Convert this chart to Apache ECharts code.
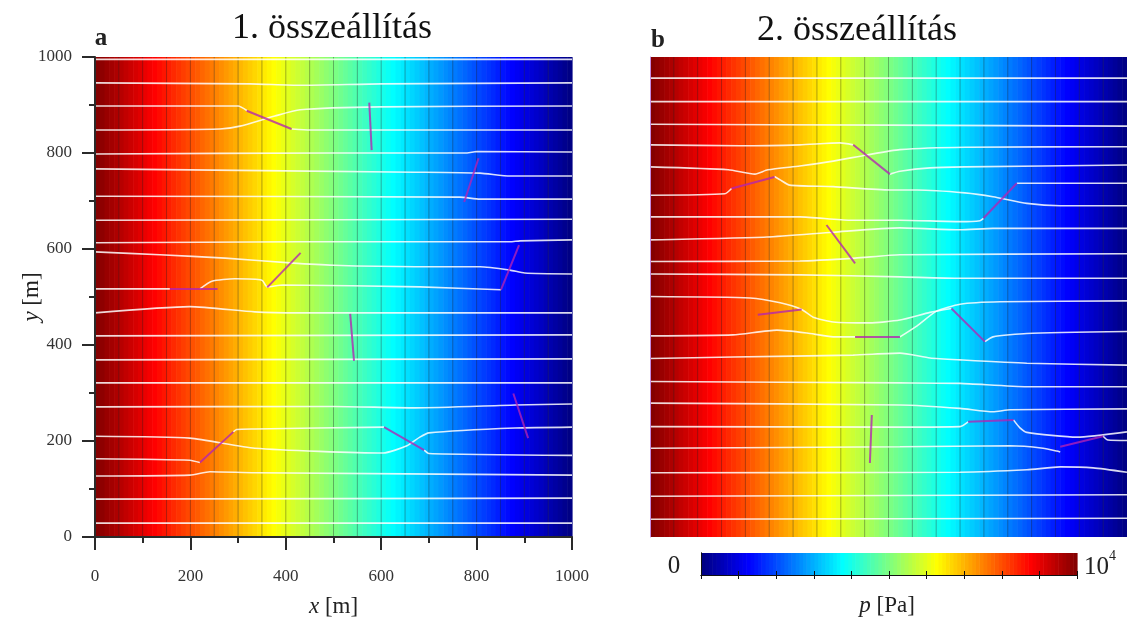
<!DOCTYPE html>
<html><head><meta charset="utf-8">
<script src="https://cdn.jsdelivr.net/npm/echarts@6/dist/echarts.min.js"></script>
<style>html,body{margin:0;padding:0;background:#fff}#c{width:1127px;height:624px}</style>
</head><body><div id="c"></div>
<script>
// ---- data (x, y in metres; p in Pa) ----
const panelTitles = ['1. összeállítás', '2. összeállítás'];
const panelLetters = ['a', 'b'];
const cellX = [5,15,25,35,45,55,65,75,85,95,105,115,125,135,145,155,165,175,185,195,205,215,225,235,245,255,265,275,285,295,305,315,325,335,345,355,365,375,385,395,405,415,425,435,445,455,465,475,485,495,505,515,525,535,545,555,565,575,585,595,605,615,625,635,645,655,665,675,685,695,705,715,725,735,745,755,765,775,785,795,805,815,825,835,845,855,865,875,885,895,905,915,925,935,945,955,965,975,985,995];
const cellP = [9950,9850,9750,9650,9550,9450,9350,9250,9150,9050,8950,8850,8750,8650,8550,8450,8350,8250,8150,8050,7950,7850,7750,7650,7550,7450,7350,7250,7150,7050,6950,6850,6750,6650,6550,6450,6350,6250,6150,6050,5950,5850,5750,5650,5550,5450,5350,5250,5150,5050,4950,4850,4750,4650,4550,4450,4350,4250,4150,4050,3950,3850,3750,3650,3550,3450,3350,3250,3150,3050,2950,2850,2750,2650,2550,2450,2350,2250,2150,2050,1950,1850,1750,1650,1550,1450,1350,1250,1150,1050,950,850,750,650,550,450,350,250,150,50];
const contourX = [50,100,150,200,250,300,350,400,450,500,550,600,650,700,750,800,850,900,950];
// streamlines; null = the line enters a fracture and leaves at its other end
const streamA = [
  [[0,995],[500,995],[1000,995]],
  [[0,946],[325,944],[430,941],[600,944],[1000,946]],
  [[0,898],[300,898],[319,888],null,[413,850],[451,848],[1000,848]],
  [[0,848],[262,850],[304,856],[377,877],[430,890],[597,896],[1000,898]],
  [[0,798],[500,800],[780,800],[800,803],[1000,802]],
  [[0,767],[671,760],[807,758],[870,752],[1000,752]],
  [[0,710],[765,708],[807,704],[1000,704]],
  [[0,660],[1000,662]],
  [[0,613],[430,615],[870,615],[891,617],[1000,619]],
  [[0,594],[136,588],[273,581],[409,571],[500,566],[671,563],[807,563],[870,556],[901,550],[1000,548]],
  [[0,517],[157,517],null,[220,517],[245,533],[293,538],[350,535],[361,521],[394,525],[681,521],[851,515]],
  [[0,467],[199,480],[335,469],[430,467],[1000,467]],
  [[0,419],[1000,421]],
  [[0,369],[1000,371]],
  [[0,321],[1000,321]],
  [[0,271],[500,272],[671,269],[881,275],[1000,277]],
  [[0,210],[199,206],[335,185],[604,175],[654,190],[681,208],[700,217],[881,227],[1000,229]],
  [[0,163],[199,160],[220,155],null,[290,219],[297,224],[335,225],[606,229],null,[690,181],[700,174],[1000,170]],
  [[0,127],[199,129],[241,136],[335,134],[1000,129]],
  [[0,79],[1000,81]],
  [[0,29],[1000,29]]
];
const fracA = [
  [[318,888],[412,850]], [[575,905],[580,806]], [[774,698],[804,789]], [[157,517],[257,517]],
  [[361,520],[431,592]], [[851,515],[889,608]], [[535,465],[543,367]], [[220,155],[290,219]],
  [[606,229],[690,181]], [[877,299],[908,206]]
];
const streamB = [
  [[0,956],[1000,956]],
  [[0,907],[1000,907]],
  [[0,860],[500,858],[1000,856]],
  [[0,817],[189,815],[314,817],[398,821],[426,817],null,[503,756],[524,762],[587,769],[660,771],[1000,775]],
  [[0,771],[164,765],[220,756],[247,765],[314,773],[384,783],[455,796],[524,807],[660,812],[1000,813]],
  [[0,712],[157,715],[171,726],null,[261,751],[273,744],[293,733],[384,730],[503,723],[560,723],[660,717],[719,709],[790,695],[860,690],[1000,690]],
  [[0,667],[314,667],[419,660],[524,660],[650,657],[692,659],[699,664],null,[769,737],[797,737],[1000,737]],
  [[0,619],[245,625],[384,635],[524,644],[650,640],[719,643],[1000,643]],
  [[0,574],[314,575],[430,581],[524,588],[1000,590]],
  [[0,548],[314,546],[524,542],[650,539],[1000,539]],
  [[0,501],[210,498],[273,488],[318,474],[342,458],[384,448],[460,446],[524,452],[587,468],[632,476],null,[702,407],[719,417],[790,424],[1000,428]],
  [[0,419],[174,421],[266,431],[329,425],[384,417],[430,417],null,[524,417],[560,440],[600,470],[650,485],[734,490],[1000,492]],
  [[0,372],[174,375],[426,379],[524,383],[587,373],[650,369],[790,362],[1000,358]],
  [[0,324],[524,321],[650,320],[790,313],[1000,313]],
  [[0,279],[524,275],[650,268],[719,261],[755,265],[1000,267]],
  [[0,230],[524,229],[650,230],[667,240],null,[762,244],[775,228],[790,218],[895,208],[1000,219]],
  [[0,185],[524,188],[755,190],[824,185],[853,179],[860,177],null,[950,210],[960,202],[1000,201]],
  [[0,134],[650,135],[790,140],[860,146],[929,144],[1000,135]],
  [[0,85],[1000,88]],
  [[0,37],[1000,39]]
];
const fracB = [
  [[171,726],[261,750]], [[226,463],[318,474]], [[426,817],[503,756]], [[370,650],[430,570]],
  [[430,417],[524,417]], [[465,254],[461,154]], [[632,476],[702,407]], [[699,664],[769,737]],
  [[667,240],[762,244]], [[860,188],[950,210]]
];
const jet = ['#00007f','#0000ff','#007fff','#00ffff','#7fff7f','#ffff00','#ff7f00','#ff0000','#7f0000'];

// ---- chart ----
const SERIF = '"Liberation Serif","DejaVu Serif",serif';
const chart = echarts.init(document.getElementById('c'), null, {renderer: 'canvas'});

function fieldItem(params, api) {
  const half = (cellX[1] - cellX[0]) / 2;
  const x = api.value(0);
  const a = api.coord([x - half, 1000]);
  const b = api.coord([x + half, 0]);
  return {type: 'rect', shape: {x: a[0], y: a[1], width: b[0] - a[0] + 0.6, height: b[1] - a[1]},
          style: {fill: api.visual('color')}};
}
function barItem(params, api) {
  const half = (cellP[0] - cellP[1]) / 2;
  const x = api.value(0);
  const a = api.coord([x - half, 1]);
  const b = api.coord([x + half, 0]);
  return {type: 'rect', shape: {x: a[0], y: a[1], width: b[0] - a[0] + 0.6, height: b[1] - a[1]},
          style: {fill: api.visual('color')}};
}
function contourItem(params, api) {
  const a = api.coord([api.value(0), 0]);
  const b = api.coord([api.value(0), 1000]);
  return {type: 'line', shape: {x1: a[0], y1: a[1], x2: b[0], y2: b[1]},
          style: {stroke: 'rgba(30,30,30,0.45)', lineWidth: 0.8}};
}

const series = [
  {type: 'custom', xAxisIndex: 0, yAxisIndex: 0, renderItem: fieldItem, data: cellX.map((x, i) => [x, cellP[i]]), silent: true, z: 1},
  {type: 'custom', xAxisIndex: 1, yAxisIndex: 1, renderItem: fieldItem, data: cellX.map((x, i) => [x, cellP[i]]), silent: true, z: 1},
  {type: 'custom', xAxisIndex: 2, yAxisIndex: 2, renderItem: barItem, data: cellP.map(p => [p, p]), silent: true, z: 1},
  {type: 'custom', xAxisIndex: 0, yAxisIndex: 0, renderItem: contourItem, data: contourX.map(x => [x, 0]), silent: true, z: 2},
  {type: 'custom', xAxisIndex: 1, yAxisIndex: 1, renderItem: contourItem, data: contourX.map(x => [x, 0]), silent: true, z: 2}
];
[[streamA, 0], [streamB, 1]].forEach(([set, idx]) => {
  set.forEach(pts => series.push({
    type: 'line', xAxisIndex: idx, yAxisIndex: idx, data: pts.map(p => p === null ? [null, null] : p),
    connectNulls: false, smooth: 0.2, symbol: 'none', silent: true, z: 3,
    lineStyle: {color: 'rgba(255,255,255,0.85)', width: 1.6}
  }));
});
[[fracA, 0], [fracB, 1]].forEach(([set, idx]) => {
  series.push({
    type: 'lines', coordinateSystem: 'cartesian2d', xAxisIndex: idx, yAxisIndex: idx, silent: true, z: 4,
    data: set.map(c => ({coords: c})),
    lineStyle: {color: 'rgba(180,35,180,0.78)', width: 2, opacity: 1}
  });
});

const tickStyle = {color: '#2a2a2a', width: 2};
const plain = v => String(v);
chart.setOption({
  animation: false,
  backgroundColor: '#fff',
  grid: [
    {left: 95, top: 57, width: 477, height: 480},
    {left: 650, top: 57, width: 477, height: 480},
    {left: 701, top: 553, width: 376, height: 22}
  ],
  visualMap: {type: 'continuous', show: false, min: 0, max: 10000, dimension: 1, seriesIndex: [0, 1, 2], inRange: {color: jet}},
  xAxis: [
    {gridIndex: 0, type: 'value', min: 0, max: 1000, interval: 200, z: 10,
     axisLine: {show: true, lineStyle: tickStyle}, axisTick: {show: true, length: 13, lineStyle: tickStyle},
     minorTick: {show: true, splitNumber: 2, length: 6, lineStyle: tickStyle}, splitLine: {show: false},
     axisLabel: {fontFamily: SERIF, fontSize: 17, color: '#333', margin: 31, formatter: plain},
     name: '{i|x} [m]', nameLocation: 'middle', nameGap: 58, nameMoveOverlap: false,
     nameTextStyle: {fontFamily: SERIF, fontSize: 23, color: '#222', rich: {i: {fontFamily: SERIF, fontSize: 23, fontStyle: 'italic', color: '#222'}}}},
    {gridIndex: 1, type: 'value', min: 0, max: 1000, show: false},
    {gridIndex: 2, type: 'value', min: 0, max: 10000, interval: 1000, z: 10,
     axisLine: {show: true, lineStyle: {color: '#111', width: 1}}, axisTick: {show: true, inside: true, length: 4, lineStyle: {color: '#111'}},
     axisLabel: {show: false}, splitLine: {show: false}},
    {gridIndex: 2, type: 'value', min: 0, max: 10000, interval: 1000, position: 'top', z: 10,
     axisLine: {show: true, lineStyle: {color: '#111', width: 1}}, axisTick: {show: true, inside: true, length: 4, lineStyle: {color: '#111'}},
     axisLabel: {show: false}, splitLine: {show: false}}
  ],
  yAxis: [
    {gridIndex: 0, type: 'value', min: 0, max: 1000, interval: 200, z: 10,
     axisLine: {show: true, lineStyle: tickStyle}, axisTick: {show: true, length: 13, lineStyle: tickStyle},
     minorTick: {show: true, splitNumber: 2, length: 6, lineStyle: tickStyle}, splitLine: {show: false},
     axisLabel: {fontFamily: SERIF, fontSize: 17, color: '#333', margin: 23, formatter: plain},
     name: '{i|y} [m]', nameLocation: 'middle', nameGap: 52, nameRotate: 90, nameMoveOverlap: false,
     nameTextStyle: {fontFamily: SERIF, fontSize: 23, color: '#222', rich: {i: {fontFamily: SERIF, fontSize: 23, fontStyle: 'italic', color: '#222'}}}},
    {gridIndex: 1, type: 'value', min: 0, max: 1000, z: 10, axisLine: {show: true, lineStyle: {color: '#c58be0', width: 1}},
     axisTick: {show: false}, axisLabel: {show: false}, splitLine: {show: false}},
    {gridIndex: 2, type: 'value', min: 0, max: 1, z: 10, axisLine: {show: true, lineStyle: {color: '#111', width: 1}},
     axisTick: {show: false}, axisLabel: {show: false}, splitLine: {show: false}},
    {gridIndex: 2, type: 'value', min: 0, max: 1, position: 'right', z: 10, axisLine: {show: true, lineStyle: {color: '#111', width: 1}},
     axisTick: {show: false}, axisLabel: {show: false}, splitLine: {show: false}}
  ],
  graphic: [
    {type: 'text', x: 332, y: 29, style: {text: panelTitles[0], font: '36px ' + SERIF, fill: '#111', textAlign: 'center', textVerticalAlign: 'middle'}},
    {type: 'text', x: 857, y: 31, style: {text: panelTitles[1], font: '36px ' + SERIF, fill: '#111', textAlign: 'center', textVerticalAlign: 'middle'}},
    {type: 'text', x: 101, y: 39, style: {text: panelLetters[0], font: 'bold 25px ' + SERIF, fill: '#222', textAlign: 'center', textVerticalAlign: 'middle'}},
    {type: 'text', x: 658, y: 41, style: {text: panelLetters[1], font: 'bold 25px ' + SERIF, fill: '#222', textAlign: 'center', textVerticalAlign: 'middle'}},
    {type: 'text', x: 674, y: 566, style: {text: '0', font: '25px ' + SERIF, fill: '#222', textAlign: 'center', textVerticalAlign: 'middle'}},
    {type: 'text', x: 1084, y: 567, style: {text: '10', font: '25px ' + SERIF, fill: '#222', textAlign: 'left', textVerticalAlign: 'middle'}},
    {type: 'text', x: 1109, y: 556, style: {text: '4', font: '14px ' + SERIF, fill: '#222', textAlign: 'left', textVerticalAlign: 'middle'}},
    {type: 'text', x: 887, y: 606, style: {text: '{i|p} [Pa]', font: '23px ' + SERIF, fill: '#222', textAlign: 'center', textVerticalAlign: 'middle',
      rich: {i: {fontFamily: SERIF, fontSize: 23, fontStyle: 'italic', fill: '#222'}}}}
  ],
  series: series
});
</script></body></html>
